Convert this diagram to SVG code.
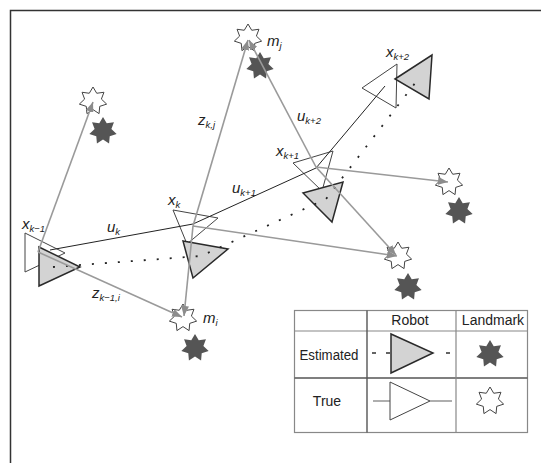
<svg xmlns="http://www.w3.org/2000/svg" width="541" height="463" viewBox="0 0 541 463">
<style>
.frame{fill:none;stroke:#333;stroke-width:1.5}
.tru{fill:none;stroke:#444;stroke-width:1}
.est{fill:#d3d3d3;stroke:#2a2a2a;stroke-width:1.5;stroke-linejoin:miter}
.ctl{fill:none;stroke:#222;stroke-width:1}
.obs{fill:none;stroke:#9a9a9a;stroke-width:1.6}
.dot{fill:none;stroke:#222;stroke-width:1.8;stroke-dasharray:2 11}
.lm-w{fill:#fff;stroke:#444;stroke-width:1}
.lm-d{fill:#555;stroke:none}
.lbl{font-family:"Liberation Sans",Arial,sans-serif;font-style:italic;font-size:15px;fill:#222}
.sub{font-size:9.5px}
.leg{font-family:"Liberation Sans",Arial,sans-serif;font-size:14px;fill:#222}
.lgo{fill:none;stroke:#888;stroke-width:1.2}
.lgi{fill:none;stroke:#555;stroke-width:1.4}
</style>
<defs>
<path id="star" d="M0,-14 L3.73,-7.75 L10.95,-8.73 L8.38,-1.91 L13.65,3.12 L6.72,5.36 L6.07,12.61 L0,8.6 L-6.07,12.61 L-6.72,5.36 L-13.65,3.12 L-8.38,-1.91 L-10.95,-8.73 L-3.73,-7.75 Z"/>
<marker id="arr" markerUnits="userSpaceOnUse" markerWidth="11" markerHeight="8" refX="10" refY="4" orient="auto">
<path d="M0,0 L10,4 L0,8 Z" fill="#8c8c8c"/>
</marker>
</defs>
<rect width="541" height="463" fill="#fff"/>
<path class="frame" d="M10.5,463 L10.5,10.5 L541,10.5"/>

<g id="landmarks">
<g id="lm1"><use href="#star" class="lm-w" x="93" y="101"/><use href="#star" class="lm-d" x="103" y="131"/></g>
<g id="lm-mj"><use href="#star" class="lm-w" x="248" y="38"/><use href="#star" class="lm-d" x="260" y="66"/></g>
<g id="lm3"><use href="#star" class="lm-w" x="449" y="182"/><use href="#star" class="lm-d" x="459" y="211"/></g>
<g id="lm4"><use href="#star" class="lm-w" x="398" y="256"/><use href="#star" class="lm-d" x="408" y="287"/></g>
<g id="lm-mi"><use href="#star" class="lm-w" x="183" y="318"/><use href="#star" class="lm-d" x="195" y="348"/></g>
</g>

<g id="robot-k-1"><polygon class="tru" points="25,233 25,272 65,253"/><polygon class="est" points="39,247 39,286 80,267"/></g>
<g id="robot-k"><polygon class="tru" points="173,210 218,218 187,244"/><polygon class="est" points="183,241 228,249 193,278"/></g>
<g id="robot-k1"><polygon class="tru" points="293,163 333,151 322,191"/><polygon class="est" points="303,193 343,182 332,222"/></g>
<g id="robot-k2"><polygon class="tru" points="362,88 397,64 396,108"/><polygon class="est" points="395,79 432,55 429,99"/></g>

<g id="connectors">
<path class="dot" d="M53,267 L201,256 L326,199 L419,78"/>
<path class="ctl" d="M50,250 L193,224 L316,168 L385,86"/>
<line class="obs" x1="38" y1="252" x2="93" y2="102" marker-end="url(#arr)"/>
<line class="obs" x1="38" y1="252" x2="182" y2="317" marker-end="url(#arr)"/>
<line class="obs" x1="193" y1="226" x2="248" y2="40" marker-end="url(#arr)"/>
<line class="obs" x1="193" y1="226" x2="184" y2="316" marker-end="url(#arr)"/>
<line class="obs" x1="193" y1="226" x2="397" y2="256" marker-end="url(#arr)"/>
<line class="obs" x1="316" y1="167" x2="249" y2="40" marker-end="url(#arr)"/>
<line class="obs" x1="316" y1="167" x2="448" y2="182" marker-end="url(#arr)"/>
<line class="obs" x1="316" y1="167" x2="396" y2="255" marker-end="url(#arr)"/>
</g>

<g id="labels">
<text class="lbl" x="22" y="229">x<tspan class="sub" dy="3">k−1</tspan></text>
<text class="lbl" x="107" y="232">u<tspan class="sub" dy="3">k</tspan></text>
<text class="lbl" x="92" y="298">z<tspan class="sub" dy="3">k−1,i</tspan></text>
<text class="lbl" x="203" y="323">m<tspan class="sub" dy="3">i</tspan></text>
<text class="lbl" x="168" y="205">x<tspan class="sub" dy="3">k</tspan></text>
<text class="lbl" x="232" y="193">u<tspan class="sub" dy="3">k+1</tspan></text>
<text class="lbl" x="198" y="125">z<tspan class="sub" dy="3">k,j</tspan></text>
<text class="lbl" x="267" y="46">m<tspan class="sub" dy="3">j</tspan></text>
<text class="lbl" x="297" y="121">u<tspan class="sub" dy="3">k+2</tspan></text>
<text class="lbl" x="276" y="156">x<tspan class="sub" dy="3">k+1</tspan></text>
<text class="lbl" x="386" y="57">x<tspan class="sub" dy="3">k+2</tspan></text>
</g>

<g id="legend">
<rect class="lgo" x="294.5" y="310.5" width="233" height="122"/>
<line class="lgo" x1="294.5" y1="331" x2="527.5" y2="331"/>
<line class="lgi" x1="294.5" y1="378" x2="527.5" y2="378"/>
<line class="lgi" x1="367" y1="310.5" x2="367" y2="432.5"/>
<line class="lgo" x1="456" y1="310.5" x2="456" y2="432.5"/>
<text class="leg" x="410" y="325" text-anchor="middle">Robot</text>
<text class="leg" x="493" y="325" text-anchor="middle">Landmark</text>
<text class="leg" x="329" y="360" text-anchor="middle" textLength="59" lengthAdjust="spacingAndGlyphs">Estimated</text>
<text class="leg" x="327" y="406" text-anchor="middle">True</text>
<g stroke="#222" stroke-width="1.4"><line x1="372" y1="353" x2="376" y2="353"/><line x1="386" y1="353" x2="390" y2="353"/><line x1="446" y1="353" x2="450" y2="353"/></g>
<polygon class="est" points="391,334 391,373 433,353"/>
<line class="obs" x1="373" y1="401" x2="390" y2="401" stroke-width="1.2"/>
<line class="obs" x1="430" y1="401" x2="452" y2="401" stroke-width="1.2"/>
<polygon class="tru" points="390,382 390,420 430,401"/>
<use href="#star" class="lm-d" x="490" y="354"/>
<use href="#star" class="lm-w" x="490" y="401"/>
</g>
</svg>
